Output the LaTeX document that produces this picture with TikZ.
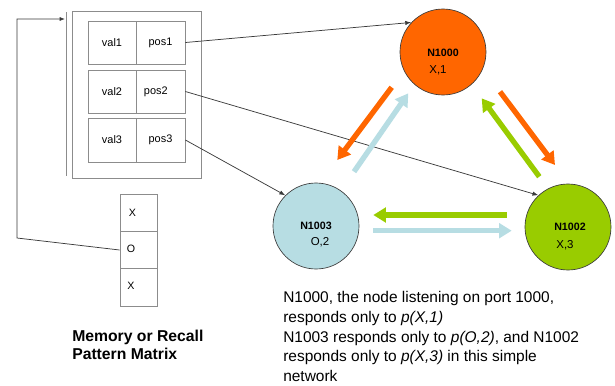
\documentclass[tikz,border=0pt]{standalone}
\usepackage{fontspec}
\setmainfont{Liberation Sans}
\usetikzlibrary{arrows.meta}
\definecolor{orn}{HTML}{FF6600}
\definecolor{lblue}{HTML}{B7DDE3}
\definecolor{lgreen}{HTML}{99CC00}
\definecolor{boxgray}{HTML}{8C8C8C}
\definecolor{linegray}{HTML}{3A3A3A}
\begin{document}
\begin{tikzpicture}[x=0.75pt,y=-0.75pt,
  cellbox/.style={draw=boxgray,line width=0.6pt,minimum height=32.25pt,inner sep=0pt,font=\fontsize{8.2}{9}\selectfont},
  valcell/.style={cellbox,minimum width=36pt},
  poscell/.style={cellbox,minimum width=36.75pt},
  matcell/.style={draw=boxgray,line width=0.6pt,minimum width=27.75pt,minimum height=28pt,inner sep=0pt},
  mattext/.style={font=\fontsize{8}{9}\selectfont,inner sep=0pt},
  netnode/.style={circle,draw=linegray,line width=0.5pt,minimum size=64.5pt,inner sep=0pt},
  nname/.style={font=\fontsize{8}{9}\selectfont\bfseries,inner sep=0pt},
  nval/.style={font=\fontsize{8.6}{9}\selectfont,inner sep=0pt},
  thin/.style={draw=linegray,line width=0.55pt,-{Latex[length=4.5pt,width=3.2pt]}},
  fat/.style={line width=4pt,-{Triangle[length=9.5pt,width=11pt]}},
  bodytext/.style={font=\fontsize{11.6}{14.7}\selectfont,align=left,inner sep=0pt},
  captext/.style={font=\fontsize{11.8}{13.5}\selectfont\bfseries,align=left,inner sep=0pt}]
\useasboundingbox (0,0) rectangle (615,386);

% outer memory box
\node[draw=boxgray,line width=0.6pt,minimum width=96.75pt,minimum height=125.25pt,inner sep=0pt] (outer) at (136.5,94.5) {};
\draw[boxgray,line width=0.6pt] (66,12) -- (66,176);

% cells
\node[valcell] (v1) at (112,42.5) {val1};
\node[poscell] (p1) at (160.5,42.5) {pos1};
\node[valcell] (v2) at (112,91.5) {val2};
\node[poscell] (p2) at (160.5,91.5) {\hspace*{-7pt}pos2};
\node[valcell,minimum height=33pt] (v3) at (112,140) {val3};
\node[poscell,minimum height=33pt] (p3) at (160.5,140) {pos3};

% pattern matrix
\node[matcell] (m1) at (138.5,212.7) {};
\node[matcell] (m2) at (138.5,250) {};
\node[matcell] (m3) at (138.5,287.3) {};
\node[mattext] (t1) at (132.5,213) {X};
\node[mattext] (t2) at (131,249) {O};
\node[mattext] (t3) at (131,286) {X};

\node[captext,anchor=base west] (cap1) at (72,341) {Memory or Recall};
\node[captext,anchor=base west] (cap2) at (72,359) {Pattern Matrix};

% feedback connector
\coordinate (fbA) at (17,238);
\coordinate (fbB) at (17,19);
\coordinate (fbC) at (65,19);
\draw[draw=linegray,line width=0.55pt,-{Latex[length=4pt,width=3pt]}] (m2.west) -- (fbA) -- (fbB) -- (fbC);

% network nodes
\node[netnode,fill=orn] (n1000) at (443,52) {};
\node[netnode,fill=lblue] (n1003) at (316,226) {};
\node[netnode,fill=lgreen] (n1002) at (568,227) {};
\node[nname] (l1000) at (443,53) {N1000};
\node[nval] (x1000) at (438,70.5) {X,1};
\node[nname] (l1003) at (316,226) {N1003};
\node[nval] (x1003) at (320,242.5) {O,2};
\node[nname] (l1002) at (570,227) {N1002};
\node[nval] (x1002) at (565,245) {X,3};

% thin connectors from positions
\draw[thin] (p1.east) -- (n1000.137);
\draw[thin] (p2.east) -- (n1002.133);
\draw[thin] (p3.east) -- (n1003.135);

% thick arrows
\coordinate (oa1) at (391.7,87.3);
\coordinate (ob1) at (337.3,160);
\coordinate (ba1) at (354,171.7);
\coordinate (bb1) at (408.3,93.3);
\coordinate (ga1) at (539.3,176.7);
\coordinate (gb1) at (481.7,98.3);
\coordinate (oa2) at (500,91.7);
\coordinate (ob2) at (555,165);
\coordinate (ga2) at (506.7,215);
\coordinate (gb2) at (373.3,215);
\coordinate (ba2) at (373.3,230.7);
\coordinate (bb2) at (511.7,230.7);
\draw[fat,orn] (oa1) -- (ob1);
\draw[fat,lblue] (ba1) -- (bb1);
\draw[fat,lgreen] (ga1) -- (gb1);
\draw[fat,orn] (oa2) -- (ob2);
\draw[fat,lgreen] (ga2) -- (gb2);
\draw[fat,lblue] (ba2) -- (bb2);

% explanation text
\node[bodytext,anchor=north west] (expl) at (283,291.5) {N1000, the node listening on port 1000,\\
responds only to \textit{p(X,1)}\\
N1003 responds only to \textit{p(O,2)}, and N1002\\
responds only to \textit{p(X,3)} in this simple\\
network};
\end{tikzpicture}
\end{document}
